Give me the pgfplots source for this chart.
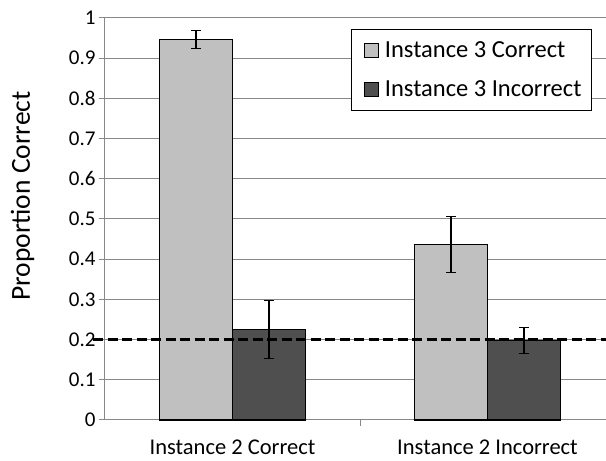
\documentclass[border=0pt]{standalone}
\usepackage{pgfplots}
\pgfplotsset{compat=1.18}
\usepackage{fontspec}
\setmainfont{Carlito}
\definecolor{lightbar}{HTML}{C0C0C0}
\definecolor{darkbar}{HTML}{4F4F4F}
\definecolor{gridgray}{HTML}{888888}
\begin{document}
\begin{tikzpicture}
\begin{axis}[
  name=ax,
  scale only axis, width=501pt, height=402pt,
  xmin=0, xmax=1.9647, ymin=0, ymax=1,
  clip=false,
  axis x line=bottom, axis y line=left,
  axis line style={-, gridgray, line width=1pt},
  ytick={0,0.1,0.2,0.3,0.4,0.5,0.6,0.7,0.8,0.9,1},
  yticklabels={0,0.1,0.2,0.3,0.4,0.5,0.6,0.7,0.8,0.9,1},
  ymajorgrids, grid style={gridgray, line width=1pt},
  tick align=outside, major tick length=6pt,
  tick style={gridgray, line width=1pt},
  xtick={1}, xticklabels={},
  extra x ticks={0.5,1.5},
  extra x tick labels={Instance 2 Correct, Instance 2 Incorrect},
  extra x tick style={major tick length=0pt, tick label style={font=\fontsize{22.5}{26}\selectfont, yshift=-16pt}},
  yticklabel style={font=\fontsize{21}{25}\selectfont},
  every axis y label/.style={at={(axis description cs:-0.1647,0.557)}, rotate=90, anchor=center},
  ylabel={\fontsize{27.5}{32}\selectfont Proportion Correct},
  legend style={at={(0.972,0.973)}, anchor=north east, draw=black, line width=1pt,
    font=\fontsize{24.5}{29}\selectfont, row sep=18pt, inner xsep=8pt, inner ysep=10pt},
  legend cell align=left,
]
\addplot[ybar, bar width=0.286, bar shift=0pt, fill=lightbar, draw=black, line width=1.2pt,
  legend image code/.code={\path[draw=none, fill=none] (0pt,0pt) -- (23pt,0pt);\draw[fill=lightbar, draw=black, line width=1pt] (5pt,-7pt) rectangle (19pt,7pt);},
  error bars/.cd, y dir=both, y explicit,
  error bar style={line width=1.2pt, black},
  error mark options={rotate=90, mark size=5pt, line width=1.2pt, black}]
  coordinates {(0.357,0.946) +- (0,0.022) (1.357,0.437) +- (0,0.070)};
\addlegendentry{Instance 3 Correct}
\addplot[ybar, bar width=0.286, bar shift=0pt, fill=darkbar, draw=black, line width=1.2pt,
  legend image code/.code={\path[draw=none, fill=none] (0pt,0pt) -- (23pt,0pt);\draw[fill=darkbar, draw=black, line width=1pt] (5pt,-7pt) rectangle (19pt,7pt);},
  error bars/.cd, y dir=both, y explicit,
  error bar style={line width=1.2pt, black},
  error mark options={rotate=90, mark size=5pt, line width=1.2pt, black}]
  coordinates {(0.643,0.225) +- (0,0.072) (1.643,0.198) +- (0,0.032)};
\addlegendentry{Instance 3 Incorrect}
\addplot[black, line width=2.4pt, dash pattern=on 10pt off 4.5pt, forget plot]
  coordinates {(-0.047,0.2) (1.9647,0.2)};
\end{axis}
\pgfresetboundingbox
\path (ax.south west) ++(-105pt,-41pt) rectangle ++(606pt,461pt);
\end{tikzpicture}
\end{document}
